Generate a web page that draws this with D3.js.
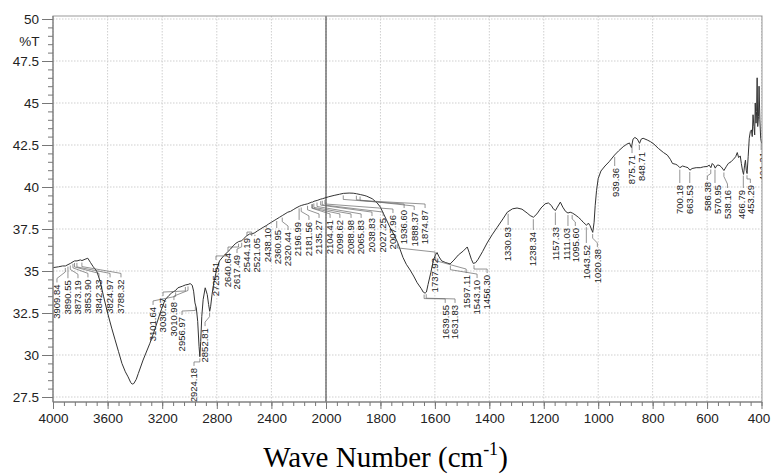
<!DOCTYPE html>
<html>
<head>
<meta charset="utf-8">
<script src="https://cdn.jsdelivr.net/npm/d3@7"></script>
<style>
body { margin: 0; background: #fff; }
svg { display: block; }
</style>
</head>
<body>
<script>
// spectrum (cm-1, %T)
const wavenumber = [4000,3960,3930,3909,3890,3873,3853,3842,3824,3800,3788,3765,3745,3725,3705,3680,3655,3630,3600,3570,3545,3520,3495,3470,3450,3430,3420,3408,3390,3375,3340,3290,3255,3215,3180,3150,3130,3101,3085,3050,3030,3010,2995,2980,2970,2960,2950,2940,2930,2924,2918,2910,2900,2885,2870,2860,2852,2845,2835,2820,2800,2780,2750,2725,2700,2680,2660,2640,2617,2600,2580,2560,2544,2521,2500,2480,2460,2438,2420,2400,2380,2360,2340,2320,2300,2280,2260,2240,2220,2196,2181,2160,2135,2104,2098,2088,2065,2038,2027,2007,1990,1970,1950,1936,1915,1900,1888,1874,1860,1850,1830,1812,1800,1790,1778,1765,1750,1737,1727,1717,1705,1691,1678,1665,1650,1643,1636,1631,1625,1615,1606,1598,1592,1585,1575,1560,1544,1530,1514,1495,1481,1474,1466,1459,1450,1441,1425,1408,1390,1371,1350,1334,1315,1298,1280,1261,1250,1238,1225,1210,1195,1183,1172,1165,1157,1150,1139,1130,1120,1111,1103,1095,1085,1073,1063,1055,1048,1043,1036,1030,1020,1015,1011,1006,1000,990,975,960,940,925,908,895,885,878,872,865,856,848,842,835,820,808,795,779,760,746,735,727,715,709,700,690,680,670,663,655,640,625,613,600,592,586,581,575,570,563,556,548,538,530,522,512,503,495,489,484,478,474,470,466,462,459,456,453,449,445,441,437,434,431,428,425,423,420,418,416,414,411,409,406,403,400];
const transmittance = [35.2,35.25,35.3,35.3,35.38,35.45,35.55,35.6,35.6,35.66,35.62,35.7,35.76,35.5,35.25,35.0,34.4,33.5,32.5,31.6,30.9,30.2,29.5,29.0,28.7,28.35,28.27,28.3,28.55,28.9,29.7,30.7,31.5,32.5,33.27,33.55,33.7,33.85,34.0,34.1,34.17,34.2,34.25,34.15,33.8,33.1,32.8,32.0,30.5,29.9,30.8,32.3,33.3,34.0,33.6,33.0,32.6,32.9,33.6,34.4,35.1,35.6,35.9,36.1,36.3,36.5,36.65,36.75,36.8,36.95,37.1,37.2,37.2,37.28,37.4,37.5,37.6,37.7,37.8,37.9,38.0,38.1,38.2,38.3,38.4,38.5,38.55,38.65,38.75,38.85,38.9,38.95,39.0,39.1,39.1,39.15,39.2,39.28,39.3,39.35,39.42,39.5,39.57,39.62,39.64,39.63,39.6,39.55,39.5,39.45,39.3,39.05,38.8,38.45,38.05,37.6,37.15,36.7,36.25,35.8,35.4,35.06,34.7,34.3,33.95,33.75,33.68,33.75,34.2,34.9,35.6,35.95,36.1,35.85,35.6,35.5,35.42,35.65,35.95,36.2,36.43,36.1,35.7,35.45,35.5,35.7,36.15,36.67,37.15,37.6,38.1,38.5,38.7,38.75,38.68,38.45,38.3,38.2,38.4,38.75,39.0,39.05,38.9,38.7,38.6,38.8,39.1,38.8,38.55,38.45,38.5,38.45,38.35,38.2,38.05,37.9,37.8,37.72,37.85,37.7,37.3,37.9,38.9,39.8,40.5,40.95,41.25,41.5,41.9,42.15,42.4,42.55,42.62,42.35,42.85,42.95,42.85,42.6,42.85,42.9,42.8,42.7,42.55,42.3,42.05,41.9,41.65,41.4,41.35,41.3,41.15,41.25,41.2,41.15,41.0,41.1,41.15,41.15,41.2,41.22,41.3,41.15,41.4,41.3,41.12,41.3,41.3,41.2,40.98,41.2,41.4,41.5,41.65,41.8,42.05,41.75,41.85,41.4,41.0,40.75,41.3,41.6,41.0,40.8,41.8,42.9,43.3,43.4,43.0,44.3,43.6,43.1,45.0,43.8,44.5,46.5,43.6,44.2,46.0,44.0,42.9,42.6];

// peak labels, where each label sits (cm-1) and the %T of its top end
const peakLabels = ["3909.84","3890.55","3873.19","3853.90","3842.33","3824.97","3788.32","3101.64","3030.27","3010.98","2956.97","2924.18","2852.81","2725.51","2640.64","2617.49","2544.19","2521.05","2438.10","2360.95","2320.44","2196.99","2181.56","2135.27","2104.41","2098.62","2088.98","2065.83","2038.83","2027.25","2007.96","1936.60","1888.37","1874.87","1737.92","1639.55","1631.83","1597.11","1543.10","1456.30","1330.93","1238.34","1157.33","1111.03","1095.60","1043.52","1020.38","939.36","875.71","848.71","700.18","663.53","586.38","570.95","538.16","466.79","453.29","401.21"];
const labelWn = [3971,3890,3817,3744,3663,3582,3502,3267,3194,3114,3055,2967,2886,2806,2718,2652,2579,2506,2425,2352,2278,2205,2125,2051,1985,1949,1908,1871,1831,1790,1754,1713,1676,1636,1599,1562,1526,1485,1445,1408,1334,1239,1158,1117,1084,1044,1003,937,878,842,702,665,599,562,525,474,441,396];
const labelTop = [34.2,34.45,34.45,34.5,34.5,34.5,34.5,32.86,33.39,33.15,32.26,29.23,31.6,35.54,36.07,35.95,36.96,36.96,37.56,37.44,37.32,37.92,37.92,38.04,38.04,38.04,38.04,38.04,38.15,38.15,38.33,38.63,38.51,38.63,35.77,32.98,32.98,34.76,34.46,34.76,37.62,37.32,37.62,37.56,37.56,36.55,36.31,41.13,41.9,42.08,40.12,40.12,40.3,40.12,39.82,39.82,40.12,42.08];

const xTicks = [4000,3600,3200,2800,2400,2000,1800,1600,1400,1200,1000,800,600,400];
const yTicks = [27.5,30,32.5,35,37.5,40,42.5,45,47.5,50];

const W = 771, H = 475;
const pLeft = 53, pRight = 762, pTop = 16, pBottom = 402;

// the x axis changes scale at 2000
const x = d3.scaleLinear().domain([4000, 2000, 400]).range([53, 326, 761.5]);
const y = d3.scaleLinear().domain([27.5, 50]).range([397, 19]);

const svg = d3.select("body").append("svg").attr("width", W).attr("height", H);

svg.append("clipPath").attr("id", "plot")
	.append("rect").attr("x", pLeft).attr("y", pTop).attr("width", pRight - pLeft).attr("height", pBottom - pTop);

// grid
const grid = svg.append("g").attr("stroke", "#cfcfcf").attr("stroke-dasharray", "1.5,1.5");
grid.selectAll("line.v").data(xTicks).enter().append("line")
	.attr("x1", (d) => x(d)).attr("x2", (d) => x(d)).attr("y1", pTop).attr("y2", pBottom);
grid.selectAll("line.h").data(yTicks).enter().append("line")
	.attr("x1", pLeft).attr("x2", pRight).attr("y1", (d) => y(d)).attr("y2", (d) => y(d));

// scale change line
svg.append("line").attr("x1", x(2000)).attr("x2", x(2000)).attr("y1", pTop).attr("y2", pBottom)
	.attr("stroke", "#333").attr("stroke-width", 1);

const plot = svg.append("g").attr("clip-path", "url(#plot)");

const points = wavenumber.map((w, i) => [w, transmittance[i]]);
const line = d3.line().x((d) => x(d[0])).y((d) => y(d[1]));
plot.append("path").datum(points).attr("d", line)
	.attr("fill", "none").attr("stroke", "#333").attr("stroke-width", 1).attr("stroke-linejoin", "round");

// %T on the curve at a given wavenumber
const asc = points.slice().reverse();
function valueAt(w) {
	const i = d3.bisector((d) => d[0]).left(asc, w);
	if (i <= 0) return asc[0][1];
	if (i >= asc.length) return asc[asc.length - 1][1];
	const a = asc[i - 1], b = asc[i];
	return a[1] + (b[1] - a[1]) * (w - a[0]) / (b[0] - a[0]);
}

const peaks = peakLabels.map((t, i) => {
	const w = parseFloat(t);
	return { text: t, xc: x(w), yc: y(valueAt(w)), xl: x(labelWn[i]), yl: y(labelTop[i]) };
});

plot.selectAll("path.leader").data(peaks).enter().append("path")
	.attr("fill", "none").attr("stroke", "#666").attr("stroke-width", 0.7)
	.attr("d", (p) => {
		const y0 = p.yc + 2;
		const y1 = p.yl - 2;
		if (Math.abs(p.xl - p.xc) < 2.5) return `M${p.xc},${y0}V${y1}`;
		const yb = Math.min(y0 + 4, y1 - 4);
		return `M${p.xc},${y0}V${yb}L${p.xl},${Math.max(yb, y1 - 4)}V${y1}`;
	});

plot.selectAll("text.peak").data(peaks).enter().append("text")
	.attr("transform", (p) => `translate(${p.xl},${p.yl}) rotate(-90)`)
	.attr("text-anchor", "end")
	.attr("dy", "0.35em")
	.attr("font-family", "Liberation Sans, Arial, sans-serif")
	.attr("font-size", "9.5px")
	.attr("fill", "#222")
	.text((p) => p.text);

// frame
svg.append("rect").attr("x", pLeft).attr("y", pTop).attr("width", pRight - pLeft).attr("height", pBottom - pTop)
	.attr("fill", "none").attr("stroke", "#999");

// axes
const yMinor = d3.range(27.5, 50.01, 0.5);
svg.append("g").attr("transform", `translate(${pLeft},0)`)
	.call(d3.axisLeft(y).tickValues(yMinor).tickSize(5).tickFormat(""))
	.call((g) => g.select(".domain").remove())
	.call((g) => g.selectAll("line").attr("stroke", "#777"));
svg.append("g").attr("transform", `translate(${pLeft},0)`)
	.call(d3.axisLeft(y).tickValues(yTicks).tickSize(11).tickPadding(3).tickFormat((d) => d))
	.call((g) => g.select(".domain").remove())
	.call((g) => g.selectAll("line").attr("stroke", "#777"))
	.call((g) => g.selectAll("text").attr("font-family", "Liberation Sans, Arial, sans-serif")
		.attr("font-size", "13.5px").attr("fill", "#222"));

const xMinor = d3.range(4000, 2000, -80).concat(d3.range(2000, 399, -40));
svg.append("g").attr("transform", `translate(0,${pBottom})`)
	.call(d3.axisBottom(x).tickValues(xMinor).tickSize(4).tickFormat(""))
	.call((g) => g.select(".domain").remove())
	.call((g) => g.selectAll("line").attr("stroke", "#777"));
svg.append("g").attr("transform", `translate(0,${pBottom})`)
	.call(d3.axisBottom(x).tickValues(xTicks).tickSize(7).tickPadding(4).tickFormat((d) => d))
	.call((g) => g.select(".domain").remove())
	.call((g) => g.selectAll("line").attr("stroke", "#777"))
	.call((g) => g.selectAll("text").attr("font-family", "Liberation Sans, Arial, sans-serif")
		.attr("font-size", "13.5px").attr("fill", "#222")
		.attr("dx", (d) => (d === 400 ? "-3" : null)));

svg.append("line").attr("x1", pLeft).attr("x2", pLeft).attr("y1", pTop).attr("y2", pBottom).attr("stroke", "#777");
svg.append("line").attr("x1", pLeft).attr("x2", pRight).attr("y1", pBottom).attr("y2", pBottom).attr("stroke", "#777");

svg.append("text").attr("x", 39.5).attr("y", y(48.7)).attr("dy", "0.35em")
	.attr("text-anchor", "end").attr("font-family", "Liberation Sans, Arial, sans-serif")
	.attr("font-size", "13.5px").attr("fill", "#222").text("%T");

const title = svg.append("text").attr("x", W / 2).attr("y", 467).attr("text-anchor", "middle")
	.attr("font-family", "Liberation Serif, Times New Roman, serif").attr("font-size", "29px").attr("fill", "#000");
title.append("tspan").text("Wave Number (cm");
title.append("tspan").attr("font-size", "18px").attr("dy", "-12").text("-1");
title.append("tspan").attr("dy", "12").text(")");
</script>
</body>
</html>
